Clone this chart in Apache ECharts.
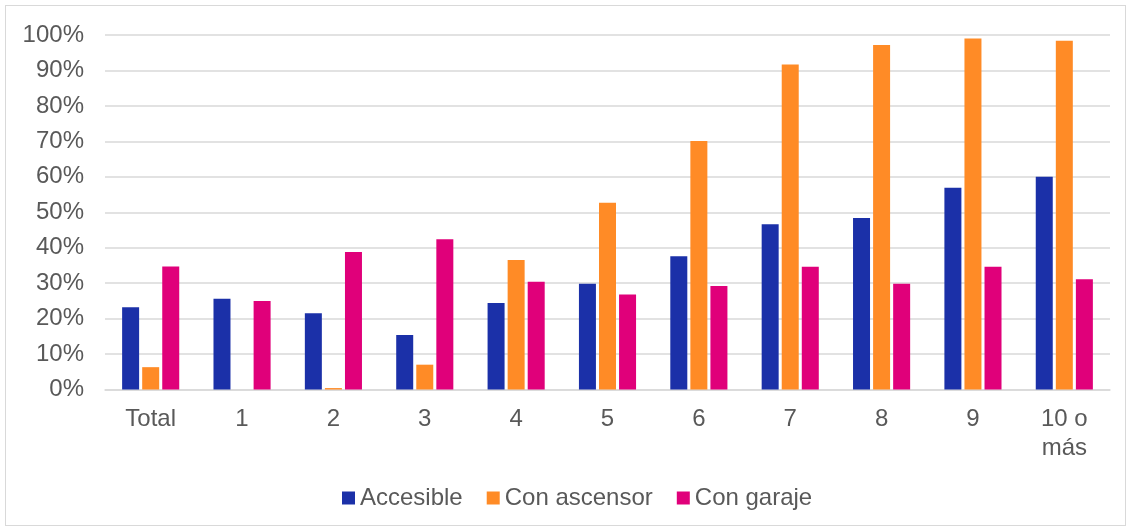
<!DOCTYPE html>
<html>
<head>
<meta charset="utf-8">
<script src="https://cdn.jsdelivr.net/npm/echarts@6/dist/echarts.min.js"></script>
<style>
  html, body { margin: 0; padding: 0; background: #fff; }
  #frame { position: absolute; left: 5px; top: 5px; width: 1121px; height: 521px; border: 1px solid #d9d9d9; box-sizing: border-box; }
  #chart { position: absolute; left: 0; top: 0; width: 1132px; height: 531px; }
</style>
</head>
<body>
<div id="frame"></div>
<div id="chart"></div>
<script>
// Número de plantas del edificio
const categories = ['Total', '1', '2', '3', '4', '5', '6', '7', '8', '9', '10 o\nmás'];
// Porcentaje de viviendas según característica
const accesible = [23.2, 25.6, 21.5, 15.4, 24.4, 29.8, 37.6, 46.6, 48.4, 56.9, 60.0];
const conAscensor = [6.3, 0, 0.4, 7.0, 36.5, 52.7, 70.1, 91.7, 97.2, 99.0, 98.4];
const conGaraje = [34.7, 25.0, 38.8, 42.4, 30.4, 26.8, 29.2, 34.6, 29.8, 34.6, 31.1];
const seriesNames = ['Accesible', 'Con ascensor', 'Con garaje'];
const colors = ['#1b30a8', '#ff8b26', '#e0007a'];

const font = 'Liberation Sans, Arial, sans-serif';
const textColor = '#595959';
const fontSize = 24;

const chart = echarts.init(document.getElementById('chart'), null, { renderer: 'canvas' });
const values = [accesible, conAscensor, conGaraje];

chart.setOption({
  animation: false,
  color: colors,
  textStyle: { fontFamily: font },
  grid: { left: 105, right: 22, top: 35, bottom: 141.5, containLabel: false },
  legend: {
    top: 481,
    left: 337,
    icon: 'rect',
    itemWidth: 13,
    itemHeight: 13,
    itemGap: 24,
    textStyle: { fontFamily: font, fontSize: fontSize, color: textColor },
    data: seriesNames
  },
  xAxis: {
    type: 'category',
    data: categories,
    axisLine: { lineStyle: { color: '#d9d9d9', width: 1.5 } },
    axisTick: { show: false },
    axisLabel: { color: textColor, fontSize: fontSize, fontFamily: font, margin: 15, lineHeight: 29, interval: 0 }
  },
  yAxis: {
    type: 'value',
    min: 0,
    max: 100,
    interval: 10,
    axisLine: { show: false },
    axisTick: { show: false },
    splitLine: { lineStyle: { color: '#d9d9d9', width: 1.5 } },
    axisLabel: { color: textColor, fontSize: fontSize, fontFamily: font, margin: 21, formatter: '{value}%' }
  },
  series: seriesNames.map((name, i) => ({
    name: name,
    type: 'bar',
    data: values[i],
    barWidth: 17,
    barGap: '18%',
    itemStyle: { color: colors[i] }
  }))
});
</script>
</body>
</html>
